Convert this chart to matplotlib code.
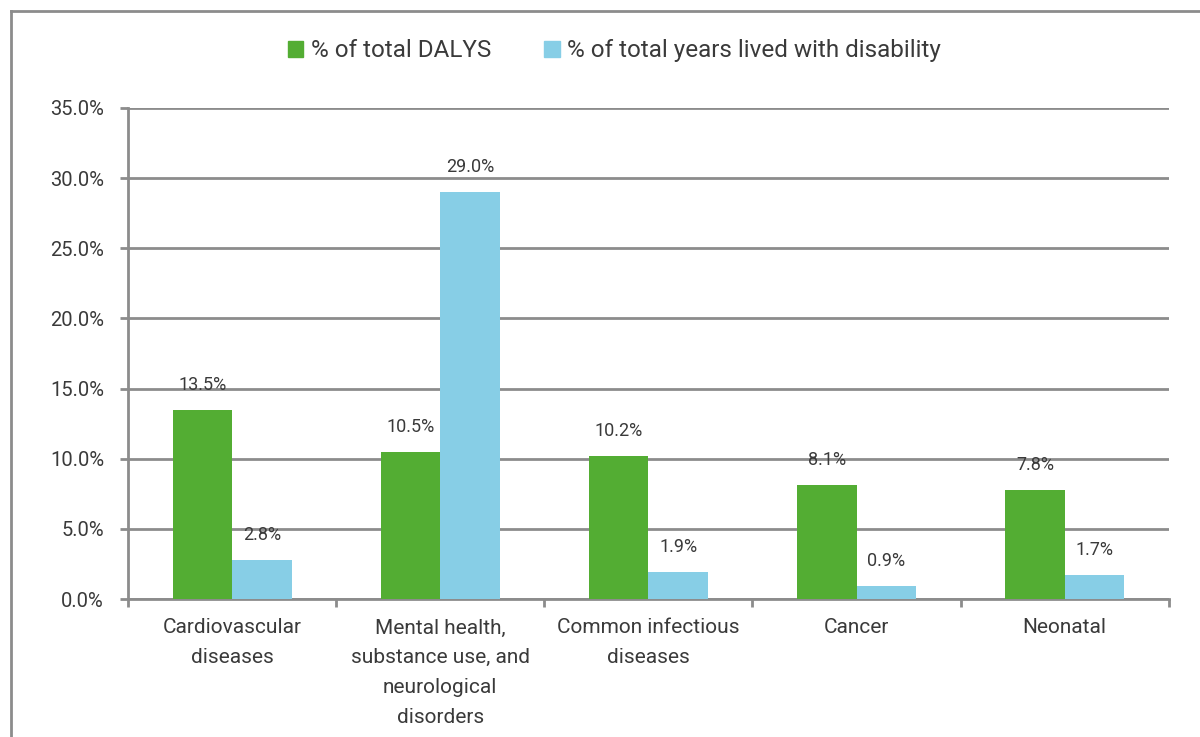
import matplotlib
matplotlib.use("Agg")
import matplotlib.pyplot as plt
from matplotlib.patches import Patch
from matplotlib.lines import Line2D
import numpy as np

categories = [
    "Cardiovascular\ndiseases",
    "Mental health,\nsubstance use, and\nneurological\ndisorders",
    "Common infectious\ndiseases",
    "Cancer",
    "Neonatal",
]
dalys = [13.5, 10.5, 10.2, 8.1, 7.8]
yld = [2.8, 29.0, 1.9, 0.9, 1.7]
series_names = ["% of total DALYS", "% of total years lived with disability"]
yticks = [0, 5, 10, 15, 20, 25, 30, 35]

green = "#53ad33"
blue = "#87cee6"
grid_c = "#8c8c8c"
text_c = "#3a3a3a"

plt.rcParams["font.family"] = ["Roboto", "DejaVu Sans"]

fig = plt.figure(figsize=(12, 7.37), dpi=100)
ax = fig.add_axes([0.1067, 0.1872, 0.974 - 0.1067, 0.8535 - 0.1872])

x = np.arange(len(categories))
w = 0.286
b1 = ax.bar(x - w / 2, dalys, w, color=green, zorder=3)
b2 = ax.bar(x + w / 2, yld, w, color=blue, zorder=3)

for bars, vals in ((b1, dalys), (b2, yld)):
    for rect, v in zip(bars, vals):
        ax.annotate(f"{v:.1f}%", (rect.get_x() + rect.get_width() / 2, v),
                    xytext=(0, 18), textcoords="offset points", ha="center", va="center",
                    fontsize=13, color=text_c)

ax.set_xlim(-0.5, len(categories) - 0.5)
ax.set_ylim(0, 35)
ax.set_yticks(yticks)
ax.set_yticklabels([f"{t:.1f}%" for t in yticks], fontsize=14.5, color=text_c)
ax.yaxis.grid(True, color=grid_c, linewidth=2, zorder=0)
ax.set_axisbelow(True)

ax.set_xticks(x)
ax.set_xticklabels(categories, fontsize=15, color=text_c, linespacing=1.72, va="top")
ax.tick_params(axis="x", length=0, pad=14)
ax.tick_params(axis="y", length=5.8, width=2, color=grid_c, pad=11.5)
ax.set_xticks(np.arange(len(categories) + 1) - 0.5, minor=True)
ax.tick_params(axis="x", which="minor", length=5.8, width=2, color=grid_c, direction="out")

for s in ["top", "right"]:
    ax.spines[s].set_visible(False)
for s in ["left", "bottom"]:
    ax.spines[s].set_color(grid_c)
    ax.spines[s].set_linewidth(2)

handles = [Patch(color=green), Patch(color=blue)]
fig.legend(handles, series_names, loc="center", bbox_to_anchor=(0.512, 0.931), ncol=2,
           frameon=False, handlelength=0.65, handleheight=0.65,
           handletextpad=0.3, columnspacing=2.2, labelcolor=text_c,
           prop={"size": 17.5})

# outer frame
fig.add_artist(Line2D([11 / 1200, 11 / 1200], [0, 1 - 11 / 737], transform=fig.transFigure,
                      color=grid_c, linewidth=2))
fig.add_artist(Line2D([11 / 1200, 1], [1 - 11 / 737, 1 - 11 / 737], transform=fig.transFigure,
                      color=grid_c, linewidth=2))

fig.savefig("out.png", dpi=100)
